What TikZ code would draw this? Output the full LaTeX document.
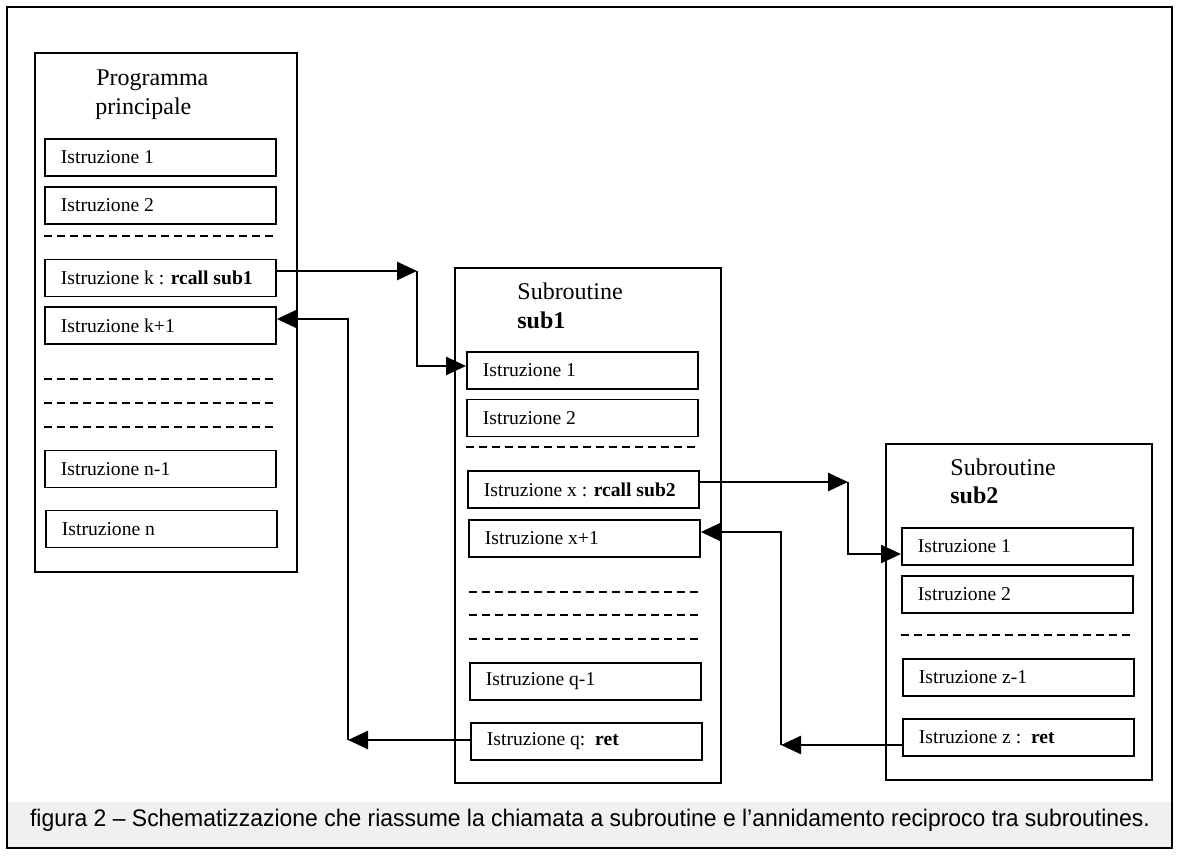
\documentclass[tikz,border=0pt]{standalone}
\usepackage{fontspec}
\setmainfont{Liberation Serif}
\newfontfamily\capfont{Liberation Sans}
\usetikzlibrary{arrows.meta,calc}
\newcommand{\itxt}[1]{\makebox[99.5pt][l]{#1}}
\begin{document}
\begin{tikzpicture}[x=0.5pt,y=-0.5pt,
  frame/.style={draw, line width=1pt},
  prog/.style={draw, line width=1.2pt},
  instr/.style={draw, line width=0.9pt, anchor=west, minimum height=18.5pt,
    minimum width=115.5pt, inner xsep=8pt, inner ysep=0pt,
    font=\fontsize{9.8}{11}\selectfont},
  ttl/.style={anchor=base west, inner sep=0pt, font=\fontsize{12}{14.5}\selectfont},
  dots/.style={dash pattern=on 4pt off 2.5pt, line width=0.6pt},
  conn/.style={line width=1.3pt, -{Triangle[length=10pt,width=9pt]}},
]
\useasboundingbox (0,0) rectangle (1178,857);
% caption band and outer frame
\fill[black!6] (8,802) rectangle (1171,847);
\draw[frame] (7,7) rectangle (1172,848);
\node[inner sep=0pt, font=\capfont] (cap) at (590,820)
  {\scalebox{0.955}[1]{\fontsize{12}{14}\selectfont figura 2 – Schematizzazione che riassume la chiamata a subroutine e l’annidamento reciproco tra subroutines.}};

% ---------------- main program ----------------
\draw[prog] (35,53) rectangle (297,572);
\node[ttl] (mt1) at (96,85) {Programma};
\node[ttl] (mt2) at (95,114) {principale};
\node[instr] (m1) at (44,157.5) {\itxt{Istruzione 1}};
\node[instr] (m2) at (44,205.5) {\itxt{Istruzione 2}};
\draw[dots] (44,236) -- (274,236);
\node[instr] (mk) at (44,278) {\itxt{Istruzione k : \textbf{rcall sub1}}};
\node[instr] (mk1) at (44,325.5) {\itxt{Istruzione k+1}};
\draw[dots] (44,379) -- (274,379);
\draw[dots] (44,403) -- (274,403);
\draw[dots] (44,427) -- (274,427);
\node[instr] (mn1) at (44,469) {\itxt{Istruzione n-1}};
\node[instr] (mn) at (45,529) {\itxt{Istruzione n}};

% ---------------- sub1 ----------------
\draw[prog] (455,268) rectangle (721,783);
\node[ttl] (s1t1) at (517,299) {Subroutine};
\node[ttl] (s1t2) at (517,328) {\textbf{sub1}};
\node[instr] (s1i1) at (466,370.5) {\itxt{Istruzione 1}};
\node[instr] (s1i2) at (466,418) {\itxt{Istruzione 2}};
\draw[dots] (466,447) -- (696,447);
\node[instr] (s1x) at (467,489.5) {\itxt{Istruzione x : \textbf{rcall sub2}}};
\node[instr] (s1x1) at (468,538.5) {\itxt{Istruzione x+1}};
\draw[dots] (469,592) -- (698,592);
\draw[dots] (469,615) -- (698,615);
\draw[dots] (469,639) -- (698,639);
\node[instr] (s1q1) at (469,681.5) {\itxt{Istruzione q-1}};
\node[instr] (s1q) at (470,741.5) {\itxt{Istruzione q:~~\textbf{ret}}};

% ---------------- sub2 ----------------
\draw[prog] (886,444) rectangle (1152,780);
\node[ttl] (s2t1) at (950,475) {Subroutine};
\node[ttl] (s2t2) at (950,503) {\textbf{sub2}};
\node[instr] (s2i1) at (901,546.5) {\itxt{Istruzione 1}};
\node[instr] (s2i2) at (901,594.5) {\itxt{Istruzione 2}};
\draw[dots] (901,635) -- (1130,635);
\node[instr] (s2z1) at (902,677.5) {\itxt{Istruzione z-1}};
\node[instr] (s2z) at (902,737.5) {\itxt{Istruzione z :~~\textbf{ret}}};

% ---------------- connectors ----------------
\coordinate (c1) at (417,271);
\coordinate (c1b) at (417,366);
\draw[conn] (mk.east |- c1) -- (c1);
\draw[conn] (c1) -- (c1b) -- (s1i1.west |- c1b);

\coordinate (c2) at (348,740);
\coordinate (c2t) at (348,319);
\draw[conn] (s1q.west |- c2) -- (c2);
\draw[conn] (c2) -- (c2t) -- (mk1.east |- c2t);

\coordinate (c3) at (848,482);
\coordinate (c3b) at (848,554);
\draw[conn] (s1x.east |- c3) -- (c3);
\draw[conn] (c3) -- (c3b) -- (s2i1.west |- c3b);

\coordinate (c4) at (781,745);
\coordinate (c4t) at (781,532);
\draw[conn] (s2z.west |- c4) -- (c4);
\draw[conn] (c4) -- (c4t) -- (s1x1.east |- c4t);
\end{tikzpicture}
\end{document}
